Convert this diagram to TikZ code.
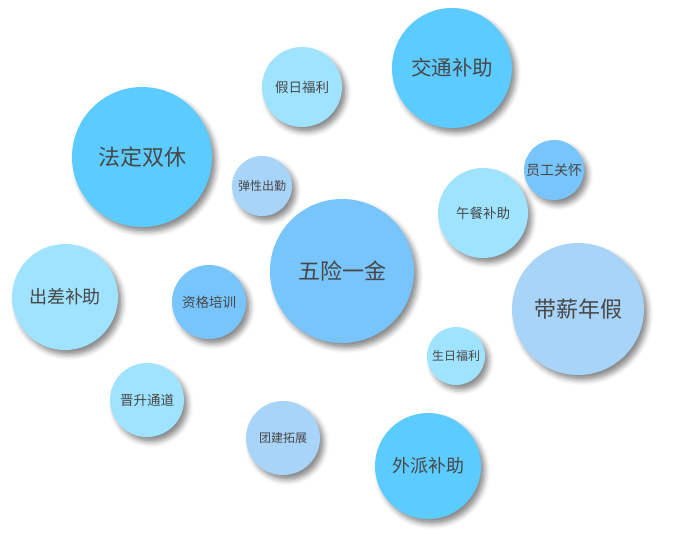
\documentclass[tikz,border=0pt]{standalone}
\usepackage{fontspec}
\setmainfont{Noto Sans CJK SC}
\usetikzlibrary{shadows, shadows.blur}
\definecolor{deepsky}{HTML}{5CCBFF}
\definecolor{midsky}{HTML}{78C5FC}
\definecolor{palecyan}{HTML}{A0E3FF}
\definecolor{paleblue}{HTML}{A8D4F8}
\definecolor{labelgray}{HTML}{474747}

\begin{document}
\begin{tikzpicture}[x=1pt, y=-1pt,
    bubble/.style={circle, inner sep=0pt, text=labelgray,
      blur shadow={shadow xshift=4pt, shadow yshift=-5pt,
        shadow blur radius=5pt, shadow opacity=45}}]
  \useasboundingbox (0,0) rectangle (673,541);
  % bubbles: name/x/y/radius/colour/font size/label
  \foreach \name/\px/\py/\r/\col/\fs/\txt in {
      fadingxiu/142/157/70/deepsky/22/法定双休,
      jiari/302/87/40/palecyan/13.5/假日福利,
      jiaotong/452/68/60/deepsky/20.5/交通补助,
      tanxing/262/186/30/paleblue/12/弹性出勤,
      yuangong/554/170/30/midsky/14/员工关怀,
      wucan/483/213/45/palecyan/13.5/午餐补助,
      wuxian/342/271/72/midsky/22/五险一金,
      chuchai/65/297/53/palecyan/18/出差补助,
      zige/209/302/37/midsky/13.5/资格培训,
      daixin/578/309/66/paleblue/22/带薪年假,
      shengri/456/356/29/palecyan/12/生日福利,
      jinsheng/147/400/37/palecyan/13.5/晋升通道,
      tuanjian/283/438/37/paleblue/12/团建拓展,
      waipai/428/466/53/deepsky/18/外派补助}{
    \node[bubble, fill=\col, minimum size=2*\r pt,
      font=\fontsize{\fs}{\fs}\selectfont] (\name) at (\px,\py) {\txt};
  }
\end{tikzpicture}
\end{document}
